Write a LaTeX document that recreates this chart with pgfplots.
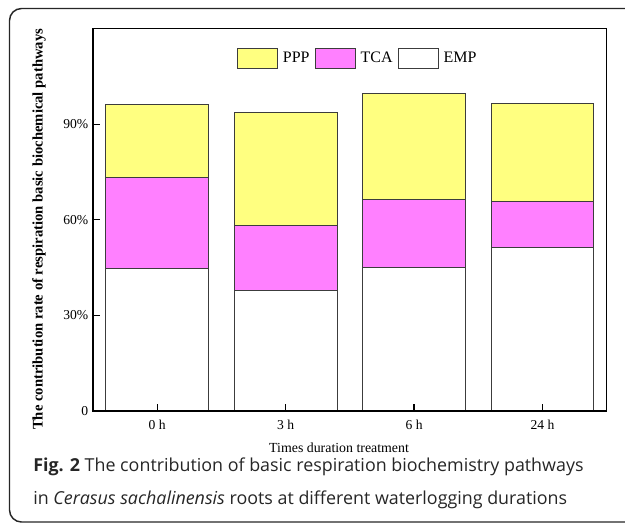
\documentclass[border=0pt]{standalone}
\usepackage{pgfplots}
\pgfplotsset{compat=1.18}
\usepackage{fontspec}
\setmainfont{Liberation Serif}
\newfontfamily\capfont{Open Sans}
\definecolor{pppY}{RGB}{255,255,128}
\definecolor{tcaM}{RGB}{255,128,255}
\definecolor{edgeC}{RGB}{60,60,60}
\begin{document}
\begin{tikzpicture}[x=0.75pt,y=0.75pt]
\useasboundingbox (0,0) rectangle (625,-525);
\begin{scope}
\clip (0,0) rectangle (625,-525);
\draw[line width=1.1pt, black!85, rounded corners=9pt] (9.5,-8.5) rectangle (660,-522);
\end{scope}
\begin{axis}[
  at={(69.75pt,-308.25pt)}, anchor=south west,
  scale only axis, width=385.3pt, height=286.9pt,
  axis on top,
  ybar stacked, bar width=0.8,
  xmin=-0.5, xmax=3.5, ymin=0, ymax=120,
  xtick={0,1,2,3}, xticklabels={0 h,3 h,6 h,24 h},
  ytick={0,30,60,90}, yticklabels={0,30\%,60\%,90\%},
  tick align=inside, major tick length=5.5pt, tick pos=left,
  axis line style={line width=0.9pt},
  tick style={line width=0.9pt, black},
  tick label style={font=\fontsize{10.2}{12}\selectfont},
  xticklabel style={yshift=-3.4pt},
  xlabel={Times duration treatment},
  ylabel={The contribution rate of respiration basic biochemical pathways},
  xlabel style={at={(axis description cs:0.479,-0.0967)}, anchor=center, font=\fontsize{10.4}{12}\selectfont},
  ylabel style={at={(axis description cs:-0.105,0.475)}, anchor=center, font=\bfseries\fontsize{11}{13}\selectfont},
  legend style={at={(axis description cs:0.2797,0.922)}, anchor=west, draw=none, fill=none,
    inner sep=0pt, legend columns=-1, font=\fontsize{12}{14}\selectfont,
    nodes={inner sep=0pt},
    /tikz/every odd column/.append style={column sep=3.75pt},
    /tikz/every even column/.append style={column sep=3.75pt}},
  reverse legend,
  mybar/.style={draw=edgeC, line width=0.75pt,
    legend image code/.code={\draw[##1] (0pt,-7.5pt) rectangle (30pt,7.5pt);}},
]
\addplot[mybar, fill=white] coordinates {(0,44.7) (1,37.8) (2,45.0) (3,51.3)};
\addplot[mybar, fill=tcaM] coordinates {(0,28.6) (1,20.4) (2,21.5) (3,14.3)};
\addplot[mybar, fill=pppY] coordinates {(0,22.9) (1,35.4) (2,33.1) (3,30.9)};
\legend{EMP,TCA,PPP}
\end{axis}
\node[anchor=base west, inner sep=0pt, font=\capfont\fontsize{13.4}{15}\selectfont, text=black!85] at (33,-471) {\textbf{Fig. 2} The contribution of basic respiration biochemistry pathways};
\node[anchor=base west, inner sep=0pt, font=\capfont\fontsize{13.4}{15}\selectfont, text=black!85] at (33,-504) {in \textit{Cerasus sachalinensis} roots at different waterlogging durations};
\end{tikzpicture}
\end{document}
